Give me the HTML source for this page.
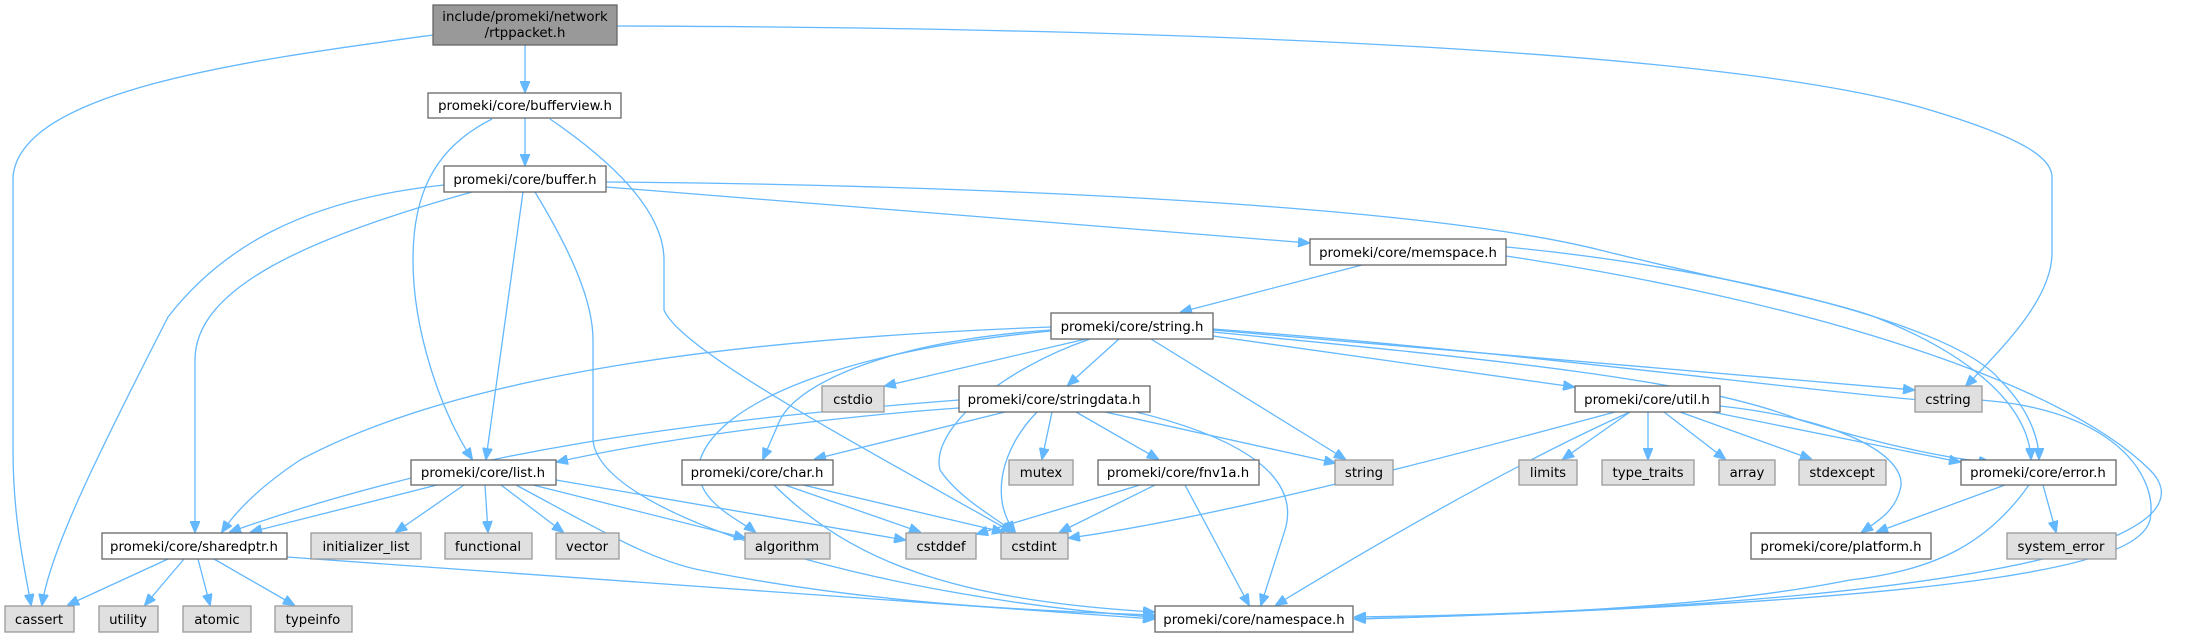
<!DOCTYPE html>
<html><head><meta charset="utf-8"><style>
html,body{margin:0;padding:0;background:#fff;}
svg{display:block;}
text{font-family:"DejaVu Sans","Liberation Sans",sans-serif;font-size:13.3px;fill:#000;text-anchor:middle;}
.n{fill:#fff;stroke:#666;stroke-width:1.3;}
.g{fill:#e0e0e0;stroke:#999;stroke-width:1.3;}
.e{fill:none;stroke:#63b8ff;stroke-width:1.3;}
</style></head><body>
<svg width="2200" height="637" viewBox="0 0 2200 637" xmlns="http://www.w3.org/2000/svg">
<defs><marker id="a" markerWidth="12" markerHeight="10" refX="11" refY="5" orient="auto" markerUnits="userSpaceOnUse"><path d="M0,0 L12,5 L0,10 z" fill="#63b8ff" stroke="#63b8ff"/></marker></defs>
<g class="e" marker-end="url(#a)">
<path d="M433,35 C250,60 20,90 13,177 L13,450 C13,520 25,570 31,605"/>
<path d="M525,45 L525,92"/>
<path d="M617,26 C1000,27 1700,40 1930,110 C2030,140 2052,160 2052,177 L2052,253 C2052,300 2000,350 1966,386"/>
<path d="M492,119 C430,150 413,200 413,260 C413,330 440,410 472,459"/>
<path d="M550,119 C610,160 664,210 664,260 L664,310 C680,350 850,440 1012,532"/>
<path d="M525,118 L525,165"/>
<path d="M444,185 C300,200 220,250 168,317 C100,450 50,550 42,605"/>
<path d="M472,192 C300,240 195,290 195,360 L195,532"/>
<path d="M523,192 L486,459"/>
<path d="M535,192 C570,250 593,300 593,340 L593,440 C600,520 900,600 1154,617"/>
<path d="M606,182 C900,184 1400,200 1600,250 C1720,280 1830,300 1875,317 C1960,350 2028,400 2031,459"/>
<path d="M606,187 C900,210 1200,235 1309,243"/>
<path d="M1362,265 L1181,312"/>
<path d="M1506,247 C1700,265 1950,320 2000,380 C2030,410 2039,440 2039,459"/>
<path d="M1506,256 C1800,300 2060,380 2150,470 C2200,520 2110,600 1355,619"/>
<path d="M1051,327 C700,340 450,380 300,460 C270,480 240,505 222,532"/>
<path d="M1051,330 C900,340 800,380 780,420 L763,459"/>
<path d="M1051,331 C850,350 720,400 700,460 C690,500 740,520 755,532"/>
<path d="M1086,339 L885,386"/>
<path d="M1119,339 L1068,385"/>
<path d="M1090,339 C1000,370 930,430 940,470 C960,500 1000,520 1013,532"/>
<path d="M1151,339 L1345,459"/>
<path d="M1213,336 L1574,387"/>
<path d="M1213,330 L1914,390"/>
<path d="M1213,332 C1500,360 1700,380 1800,420 C1900,450 1960,460 1990,462"/>
<path d="M1213,329 C1500,350 1800,390 1920,400 C2100,390 2160,470 2150,520 C2140,560 2020,600 1355,619"/>
<path d="M959,408 C900,412 700,430 557,462"/>
<path d="M959,400 C700,420 460,450 230,532"/>
<path d="M1005,412 L815,459"/>
<path d="M1037,412 C1000,450 990,500 1015,532"/>
<path d="M1052,412 L1042,459"/>
<path d="M1076,412 L1158,459"/>
<path d="M1105,412 L1335,463"/>
<path d="M1136,412 C1250,440 1300,480 1285,530 L1261,605"/>
<path d="M785,485 L920,532"/>
<path d="M803,485 L1003,532"/>
<path d="M774,485 C850,560 950,600 1154,612"/>
<path d="M1140,485 L977,534"/>
<path d="M1155,485 L1060,532"/>
<path d="M1185,485 L1249,605"/>
<path d="M437,485 L251,532"/>
<path d="M464,485 L396,532"/>
<path d="M485,485 L488,532"/>
<path d="M501,485 L563,532"/>
<path d="M533,485 L745,538"/>
<path d="M556,480 L905,540"/>
<path d="M516,485 C600,530 650,560 700,570 C850,600 1000,610 1154,615"/>
<path d="M168,559 L68,605"/>
<path d="M184,559 L145,605"/>
<path d="M198,559 L210,605"/>
<path d="M214,559 L294,605"/>
<path d="M287,557 L1154,619"/>
<path d="M1615,412 C1400,470 1200,520 1069,538"/>
<path d="M1630,412 C1500,470 1350,560 1276,605"/>
<path d="M1630,412 L1563,459"/>
<path d="M1648,412 L1648,459"/>
<path d="M1664,412 L1725,459"/>
<path d="M1680,412 L1811,459"/>
<path d="M1712,412 L1960,462"/>
<path d="M1720,406 C1850,420 1910,460 1900,490 C1895,510 1880,520 1862,532"/>
<path d="M2005,485 L1877,532"/>
<path d="M2043,485 L2056,532"/>
<path d="M2029,485 C1990,540 1940,570 1850,580 C1700,610 1500,615 1355,617"/>
</g>
<rect x="433" y="5" width="184" height="40" fill="#999" stroke="#666" stroke-width="1.3"/>
<text x="525" y="21">include/promeki/network</text><text x="525" y="37">/rtppacket.h</text>
<rect class="n" x="428" y="93" width="193" height="25"/><text x="525" y="110">promeki/core/bufferview.h</text>
<rect class="n" x="444" y="166" width="162" height="26"/><text x="525" y="184">promeki/core/buffer.h</text>
<rect class="n" x="1310" y="239" width="196" height="26"/><text x="1408" y="257">promeki/core/memspace.h</text>
<rect class="n" x="1051" y="313" width="162" height="26"/><text x="1132" y="331">promeki/core/string.h</text>
<rect class="g" x="822" y="386" width="62" height="26"/><text x="853" y="404">cstdio</text>
<rect class="n" x="959" y="386" width="191" height="26"/><text x="1054" y="404">promeki/core/stringdata.h</text>
<rect class="n" x="1575" y="386" width="145" height="26"/><text x="1647" y="404">promeki/core/util.h</text>
<rect class="g" x="1915" y="386" width="67" height="26"/><text x="1948" y="404">cstring</text>
<rect class="n" x="411" y="460" width="145" height="25"/><text x="483" y="477">promeki/core/list.h</text>
<rect class="n" x="682" y="460" width="151" height="25"/><text x="757" y="477">promeki/core/char.h</text>
<rect class="g" x="1009" y="460" width="64" height="25"/><text x="1041" y="477">mutex</text>
<rect class="n" x="1098" y="460" width="161" height="25"/><text x="1178" y="477">promeki/core/fnv1a.h</text>
<rect class="g" x="1335" y="460" width="58" height="25"/><text x="1364" y="477">string</text>
<rect class="g" x="1519" y="460" width="58" height="25"/><text x="1548" y="477">limits</text>
<rect class="g" x="1602" y="460" width="92" height="25"/><text x="1648" y="477">type_traits</text>
<rect class="g" x="1719" y="460" width="56" height="25"/><text x="1747" y="477">array</text>
<rect class="g" x="1799" y="460" width="87" height="25"/><text x="1842" y="477">stdexcept</text>
<rect class="n" x="1961" y="460" width="155" height="25"/><text x="2038" y="477">promeki/core/error.h</text>
<rect class="n" x="102" y="533" width="185" height="26"/><text x="194" y="551">promeki/core/sharedptr.h</text>
<rect class="g" x="311" y="533" width="110" height="26"/><text x="366" y="551">initializer_list</text>
<rect class="g" x="445" y="533" width="87" height="26"/><text x="488" y="551">functional</text>
<rect class="g" x="556" y="533" width="63" height="26"/><text x="587" y="551">vector</text>
<rect class="g" x="745" y="533" width="85" height="26"/><text x="787" y="551">algorithm</text>
<rect class="g" x="906" y="533" width="70" height="26"/><text x="941" y="551">cstddef</text>
<rect class="g" x="1001" y="533" width="67" height="26"/><text x="1034" y="551">cstdint</text>
<rect class="n" x="1751" y="533" width="180" height="26"/><text x="1841" y="551">promeki/core/platform.h</text>
<rect class="g" x="2007" y="533" width="109" height="26"/><text x="2061" y="551">system_error</text>
<rect class="g" x="5" y="606" width="69" height="26"/><text x="39" y="624">cassert</text>
<rect class="g" x="99" y="606" width="59" height="26"/><text x="128" y="624">utility</text>
<rect class="g" x="183" y="606" width="68" height="26"/><text x="217" y="624">atomic</text>
<rect class="g" x="275" y="606" width="77" height="26"/><text x="313" y="624">typeinfo</text>
<rect class="n" x="1155" y="606" width="198" height="26"/><text x="1254" y="624">promeki/core/namespace.h</text>
</svg>
</body></html>
